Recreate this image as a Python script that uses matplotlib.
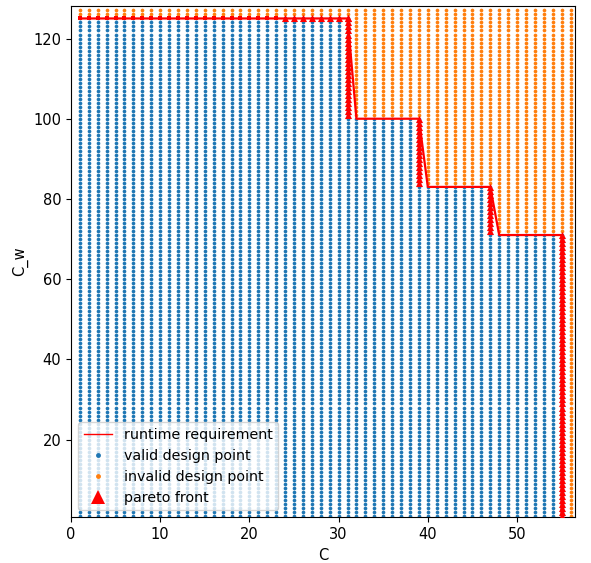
import numpy as np
import matplotlib
matplotlib.use("Agg")
import matplotlib.pyplot as plt
from matplotlib.lines import Line2D

plt.rcParams['font.size'] = 10.5

# design space
C_values = list(range(1, 57))
Cw_values = list(range(1, 128))

# runtime requirement: max allowed C_w for each band of C (upper C edge of band)
band_C_end = [31, 39, 47, 55]
band_Cw_max = [125, 100, 83, 71]

# pareto front points
pareto_top_C = list(range(24, 32))       # along C_w = 125
pareto_stack_C = [31, 39, 47, 55]
pareto_stack_lo = [101, 84, 72, 1]
pareto_stack_hi = [125, 100, 83, 71]
plain_top_C = list(range(1, 24))          # small red marks along C_w = 125


def limit(c):
    for end, w in zip(band_C_end, band_Cw_max):
        if c <= end:
            return w
    return 0


CC, WW = np.meshgrid(C_values, Cw_values)
CC = CC.ravel()
WW = WW.ravel()
lim = np.array([limit(c) for c in CC])
valid = WW <= lim

req_C = [c for c in C_values if limit(c) > 0]
req_W = [limit(c) for c in req_C]
req_C = req_C + [req_C[-1]]
req_W = req_W + [Cw_values[0]]

par_C = list(pareto_top_C)
par_W = [band_Cw_max[0]] * len(pareto_top_C)
for c, lo, hi in zip(pareto_stack_C, pareto_stack_lo, pareto_stack_hi):
    for w in range(lo, hi + 1):
        par_C.append(c)
        par_W.append(w)

fig = plt.figure(figsize=(5.91, 5.63), dpi=100)
ax = fig.add_axes([0.120, 0.081, 0.853, 0.909])

ax.scatter(CC[valid], WW[valid], s=7, c='#1f77b4', linewidths=0, zorder=2)
ax.scatter(CC[~valid], WW[~valid], s=7, c='#ff7f0e', linewidths=0, zorder=2)
ax.scatter(plain_top_C, [band_Cw_max[0]] * len(plain_top_C), s=12, marker='s',
           c='red', linewidths=0, zorder=3)
ax.scatter(par_C, par_W, s=26, marker='^', c='red', linewidths=0, zorder=3)
ax.plot(req_C, req_W, color='red', lw=1.6, zorder=4)

ax.set_xlim(0, 56.5)
ax.set_ylim(0.6, 128.2)
ax.set_xlabel('C')
ax.set_ylabel('C_w')

handles = [
    Line2D([], [], color='red', lw=1),
    Line2D([], [], ls='', marker='o', ms=3.5, color='#1f77b4', mew=0),
    Line2D([], [], ls='', marker='o', ms=3.5, color='#ff7f0e', mew=0),
    Line2D([], [], ls='', marker='^', ms=10, color='red', mew=0),
]
labels = ['runtime requirement', 'valid design point', 'invalid design point', 'pareto front']
ax.legend(handles, labels, loc='lower left', fontsize=10.3, labelspacing=0.48)

fig.savefig('out.png', dpi=100)
